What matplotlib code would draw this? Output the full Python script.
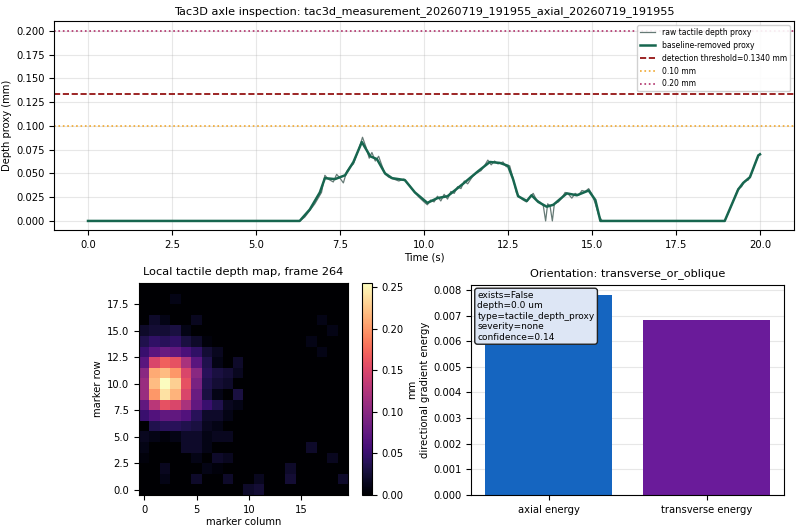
import numpy as np
import matplotlib
matplotlib.use("Agg")
import matplotlib.pyplot as plt

# ---- depth proxy trace ----
raw_time = [0.0, 6.3, 6.45, 6.6, 6.75, 6.85, 6.95, 7.05, 7.15, 7.3, 7.4, 7.5, 7.6, 7.7, 7.8,
            7.9, 8.0, 8.1, 8.17, 8.27, 8.37, 8.45, 8.55, 8.65, 8.75, 8.85, 8.95, 9.1, 9.25,
            9.4, 9.55, 9.7, 9.85, 10.0, 10.1, 10.2, 10.3, 10.4, 10.5, 10.6, 10.7, 10.8, 10.9,
            11.0, 11.1, 11.2, 11.3, 11.45, 11.55, 11.7, 11.8, 11.9, 12.0, 12.1, 12.2, 12.35,
            12.45, 12.55, 12.65, 12.75, 12.85, 12.95, 13.05, 13.15, 13.25, 13.35, 13.45,
            13.55, 13.62, 13.68, 13.75, 13.82, 13.88, 14.0, 14.1, 14.2, 14.3, 14.4, 14.5,
            14.6, 14.7, 14.8, 14.9, 15.0, 15.1, 15.2, 15.3, 18.95, 19.1, 19.25, 19.35, 19.45,
            19.55, 19.65, 19.75, 19.85, 19.95, 20.0]
raw_depth = [0.0, 0.0, 0.004, 0.011, 0.018, 0.024, 0.030, 0.048, 0.044, 0.041, 0.049, 0.045,
             0.040, 0.052, 0.057, 0.060, 0.070, 0.080, 0.088, 0.078, 0.066, 0.072, 0.063,
             0.068, 0.058, 0.049, 0.046, 0.044, 0.042, 0.044, 0.038, 0.031, 0.025, 0.020,
             0.017, 0.022, 0.020, 0.026, 0.021, 0.028, 0.023, 0.031, 0.029, 0.036, 0.034,
             0.042, 0.039, 0.047, 0.050, 0.053, 0.058, 0.064, 0.059, 0.063, 0.060, 0.062,
             0.057, 0.058, 0.045, 0.030, 0.025, 0.022, 0.020, 0.025, 0.029, 0.022, 0.020,
             0.016, 0.0, 0.018, 0.016, 0.0, 0.018, 0.020, 0.024, 0.030, 0.028, 0.024, 0.029,
             0.027, 0.032, 0.031, 0.034, 0.028, 0.018, 0.006, 0.0, 0.0, 0.012, 0.025, 0.034,
             0.036, 0.042, 0.043, 0.050, 0.060, 0.068, 0.071]

base_time = [0.0, 6.3, 6.6, 6.9, 7.05, 7.35, 7.65, 7.9, 8.15, 8.4, 8.6, 8.84, 9.05, 9.43,
             9.73, 10.1, 10.4, 10.7, 11.16, 11.6, 11.96, 12.26, 12.5, 12.65, 12.8, 13.06,
             13.2, 13.4, 13.65, 13.85, 14.25, 14.55, 14.9, 15.1, 15.25, 18.95, 19.35, 19.5,
             19.7, 19.95, 20.0]
base_depth = [0.0, 0.0, 0.012, 0.030, 0.045, 0.044, 0.048, 0.062, 0.083, 0.068, 0.065,
              0.050, 0.045, 0.043, 0.030, 0.019, 0.024, 0.026, 0.039, 0.052, 0.062, 0.061,
              0.058, 0.044, 0.026, 0.021, 0.027, 0.020, 0.015, 0.017, 0.029, 0.027, 0.032,
              0.022, 0.0, 0.0, 0.033, 0.040, 0.046, 0.069, 0.070]

threshold = 0.1340

# ---- local depth map, frame 264 (rows listed bottom -> top) ----
z = [0.0] * 20
depth_map = [
    [0, 0, 0, 0, 0, 0, 0, 0, 0, 0, 0.02, 0.025, 0, 0, 0, 0, 0, 0, 0, 0],
    [0, 0, 0.01, 0, 0, 0.02, 0, 0, 0.02, 0, 0, 0.015, 0, 0, 0.025, 0, 0, 0, 0, 0.02],
    [0, 0, 0.015, 0, 0, 0, 0.01, 0.005, 0, 0, 0, 0, 0, 0, 0.02, 0, 0, 0, 0, 0],
    [0.005, 0, 0, 0, 0, 0.01, 0, 0.02, 0.015, 0, 0, 0, 0, 0, 0, 0, 0, 0, 0.015, 0],
    [0.01, 0, 0, 0, 0.02, 0.02, 0.01, 0, 0, 0, 0, 0, 0, 0, 0, 0, 0.02, 0, 0, 0],
    [0.015, 0.01, 0.005, 0.01, 0.02, 0.02, 0.01, 0.015, 0.015, 0, 0, 0, 0, 0, 0, 0, 0, 0, 0, 0],
    [0, 0.035, 0.04, 0.04, 0.035, 0.03, 0.015, 0.01, 0, 0, 0, 0, 0, 0, 0, 0, 0, 0, 0, 0],
    [0.05, 0.065, 0.075, 0.075, 0.065, 0.04, 0.02, 0.02, 0.01, 0, 0, 0, 0, 0, 0, 0, 0, 0, 0, 0],
    [0.075, 0.13, 0.16, 0.15, 0.12, 0.075, 0.05, 0.035, 0.015, 0.01, 0, 0, 0, 0, 0, 0, 0, 0, 0, 0],
    [0.11, 0.20, 0.24, 0.215, 0.15, 0.08, 0.03, 0.01, 0, 0.03, 0, 0, 0, 0, 0, 0, 0, 0, 0, 0],
    [0.11, 0.22, 0.255, 0.23, 0.16, 0.09, 0.035, 0.025, 0.02, 0, 0, 0, 0, 0, 0, 0, 0, 0, 0, 0],
    [0.10, 0.21, 0.22, 0.20, 0.15, 0.10, 0.04, 0.03, 0.025, 0.015, 0, 0, 0, 0, 0, 0, 0, 0, 0, 0],
    [0.07, 0.15, 0.17, 0.16, 0.12, 0.07, 0.035, 0.01, 0, 0.02, 0, 0, 0, 0, 0, 0, 0, 0, 0, 0],
    [0.05, 0.07, 0.08, 0.075, 0.06, 0.045, 0.025, 0.015, 0, 0, 0, 0, 0, 0, 0, 0, 0, 0.01, 0, 0],
    [0.035, 0.045, 0.04, 0.045, 0.03, 0.02, 0.005, 0, 0, 0, 0, 0, 0, 0, 0, 0, 0.01, 0, 0, 0],
    [0.02, 0.025, 0.025, 0.03, 0.01, 0, 0, 0, 0, 0, 0, 0, 0, 0, 0, 0, 0, 0, 0.01, 0],
    [0, 0.02, 0.01, 0, 0, 0.015, 0, 0, 0, 0, 0, 0, 0, 0, 0, 0, 0, 0.01, 0, 0],
    z,
    [0, 0, 0, 0.01, 0, 0, 0, 0, 0, 0, 0, 0, 0, 0, 0, 0, 0, 0, 0, 0],
    z,
]

# ---- orientation energies ----
energy_labels = ["axial energy", "transverse energy"]
energy_values = [0.00782, 0.00683]
energy_colors = ["#1565c0", "#6a1b9a"]

info_lines = ["exists=False", "depth=0.0 um", "type=tactile_depth_proxy",
              "severity=none", "confidence=0.14"]

fs = 7.2
fig = plt.figure(figsize=(8.0, 5.31), dpi=100)

# top: depth trace
ax = fig.add_axes([0.068, 0.566, 0.924, 0.394])
ax.plot(raw_time, raw_depth, color="#667a76", lw=0.9, label="raw tactile depth proxy")
ax.plot(base_time, base_depth, color="#17664f", lw=1.8, label="baseline-removed proxy")
ax.axhline(threshold, color="#8b0000", ls="--", lw=1.2,
           label=f"detection threshold={threshold:.4f} mm")
ax.axhline(0.10, color="#f0a830", ls=":", lw=1.2, label="0.10 mm")
ax.axhline(0.20, color="#b0306a", ls=":", lw=1.2, label="0.20 mm")
ax.set_title("Tac3D axle inspection: tac3d_measurement_20260719_191955_axial_20260719_191955",
             fontsize=8.1, pad=5)
ax.set_xlabel("Time (s)", fontsize=fs, labelpad=2)
ax.set_ylabel("Depth proxy (mm)", fontsize=fs, labelpad=3)
ax.tick_params(labelsize=fs)
ax.grid(True, alpha=0.3)
ax.legend(loc="upper right", fontsize=5.5, framealpha=0.9)

# bottom left: depth map
ax2 = fig.add_axes([0.174, 0.068, 0.261, 0.399])
im = ax2.imshow(np.array(depth_map), cmap="magma", origin="lower", aspect="auto",
                interpolation="nearest")
ax2.set_title("Local tactile depth map, frame 264", fontsize=8.2)
ax2.set_xlabel("marker column", fontsize=fs, labelpad=2)
ax2.set_ylabel("marker row", fontsize=fs, labelpad=3)
ax2.set_xticks([0, 5, 10, 15])
ax2.set_yticks(np.arange(0, 18, 2.5))
ax2.tick_params(labelsize=fs)
cax = fig.add_axes([0.4525, 0.068, 0.0125, 0.399])
cb = fig.colorbar(im, cax=cax)
cb.set_label("mm", fontsize=fs, labelpad=2)
cb.ax.tick_params(labelsize=fs)

# bottom right: orientation energy bars
ax3 = fig.add_axes([0.589, 0.068, 0.391, 0.396])
ax3.bar(energy_labels, energy_values, color=energy_colors)
ax3.set_title("Orientation: transverse_or_oblique", fontsize=8.1)
ax3.set_ylabel("directional gradient energy", fontsize=fs, labelpad=2)
ax3.tick_params(labelsize=fs)
ax3.grid(True, axis="y", alpha=0.3)
ax3.set_axisbelow(True)
ax3.text(0.02, 0.97, "\n".join(info_lines), transform=ax3.transAxes, va="top", ha="left",
         fontsize=6.5, bbox=dict(boxstyle="round,pad=0.3", facecolor="#dde6f5",
                                 edgecolor="#222222"))

fig.savefig("out.png", dpi=100)
